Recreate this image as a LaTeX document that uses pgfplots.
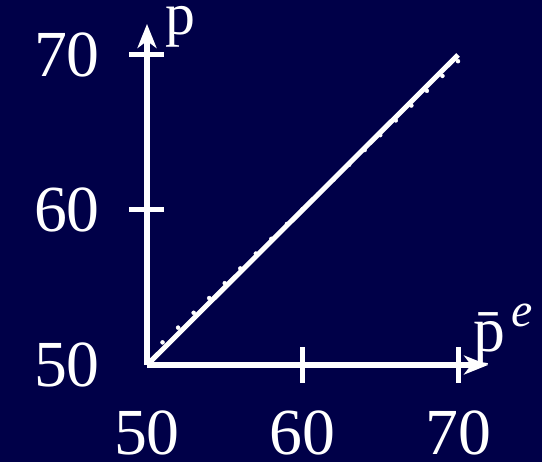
\documentclass[border=0pt]{standalone}
\usepackage{fontspec}
\setmainfont{Liberation Serif}
\usepackage{pgfplots}
\pgfplotsset{compat=1.18}
\usetikzlibrary{arrows.meta}
\definecolor{navy}{RGB}{0,0,72}
\begin{document}
\begin{tikzpicture}
% slide background
\fill[navy] (-147bp,-97bp) rectangle (395bp,365bp);
\useasboundingbox (-147bp,-97bp) rectangle (395bp,365bp);
\begin{axis}[
  at={(0,0)}, anchor=south west,
  x=15.55bp, y=15.5bp,
  xmin=50, xmax=71.93, ymin=50, ymax=72,
  axis lines=left,
  axis line style={white, line width=5.2bp,
    -{Stealth[length=24bp,width=19bp,inset=7bp]}},
  xtick={60,70}, ytick={60,70},
  extra x ticks={50}, extra y ticks={50},
  tick align=center,
  major tick length=35bp,
  tick style={white, line width=5bp},
  /pgf/number format/assume math mode=true,
  tick label style={white, font=\fontsize{66}{66}\selectfont, inner sep=0pt},
  xticklabel style={anchor=base, yshift=-72bp},
  yticklabel style={anchor=east, xshift=-29.5bp},
  extra tick style={major tick length=0pt,
    xticklabel style={yshift=-17.5bp},
    yticklabel style={xshift=-17.5bp}},
  clip=false,
]
% reference line p = p^e
\addplot[white, line width=5bp] coordinates {(50,50) (70,70)};
% fitted values
\addplot[only marks, mark=*, mark size=2bp, white] coordinates {
  (50,50.50) (51,51.46) (52,52.41) (53,53.37) (54,54.32) (55,55.28)
  (56,56.23) (57,57.19) (58,58.14) (59,59.10) (60,60.05) (61,61.01)
  (62,61.96) (63,62.92) (64,63.87) (65,64.83) (66,65.78) (67,66.74)
  (68,67.69) (69,68.65) (70,69.60)
};
\node[white, anchor=base west, inner sep=0pt, font=\fontsize{60}{60}\selectfont]
  at (axis cs:51.2,71.35) {p};
\node[white, anchor=base west, inner sep=0pt, font=\fontsize{64}{64}\selectfont]
  at (axis cs:70.96,50.85) {\={p}\hspace{6bp}\raisebox{25bp}{\fontsize{48}{48}\selectfont\itshape e}};
\end{axis}
\end{tikzpicture}
\end{document}
